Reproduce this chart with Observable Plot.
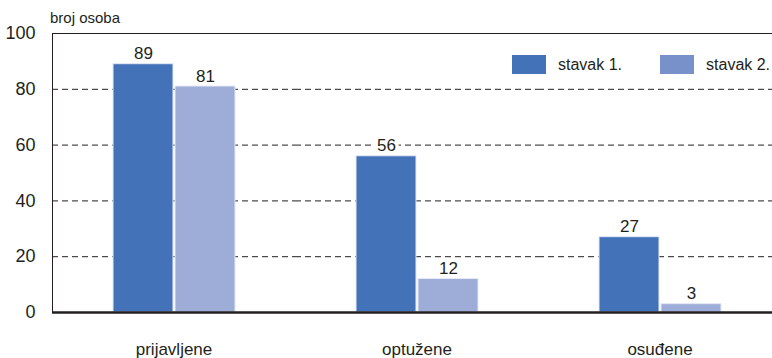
<!DOCTYPE html>
<html>
<head>
<meta charset="utf-8">
<script src="https://cdn.jsdelivr.net/npm/d3@7"></script>
<script src="https://cdn.jsdelivr.net/npm/@observablehq/plot@0.6"></script>
<style>
  html, body { margin: 0; padding: 0; overflow: hidden; background: white; width: 772px; height: 358px; }
  #wrap { position: relative; width: 772px; height: 358px; overflow: hidden; font-family: "Liberation Sans", Arial, sans-serif; color: #231f20; }
  #chart svg { max-width: none !important; width: 781px !important; height: 358px !important; display: block; }
  #ylabel { position: absolute; left: 50px; top: 9px; font-size: 15px; line-height: 18px; white-space: nowrap; }
  #legend { position: absolute; left: 512px; top: 55px; display: flex; align-items: center; font-size: 16px; white-space: nowrap; width: 300px; }
  .item { display: flex; align-items: center; white-space: nowrap; flex: none; }
  .sw { width: 34px; height: 19px; margin-right: 12px; flex: none; }
</style>
</head>
<body>
<div id="wrap">
  <div id="chart"></div>
  <div id="ylabel">broj osoba</div>
  <div id="legend"></div>
</div>
<script>
const categories = ["prijavljene", "optužene", "osuđene"];
const series = ["stavak 1.", "stavak 2."];
const stavak1 = [89, 56, 27];
const stavak2 = [81, 12, 3];
const yTicks = [0, 20, 40, 60, 80, 100];
const gridTicks = [20, 40, 60, 80];
const barColors = ["#4472b8", "#9eacd8"];
const legendColors = ["#4472b8", "#7891cb"];

const data = categories.flatMap((c, i) => [
  {category: c, series: series[0], value: stavak1[i]},
  {category: c, series: series[1], value: stavak2[i]}
]);

const chart = Plot.plot({
  width: 781,
  height: 358,
  marginLeft: 52,
  marginRight: 0,
  marginTop: 33,
  marginBottom: 46,
  style: {fontFamily: "'Liberation Sans', Arial, sans-serif", fontSize: "17px", color: "#231f20", background: "white", overflow: "visible"},
  fx: {domain: categories, padding: 0, label: null, axis: "bottom", tickSize: 0, tickPadding: 30},
  x: {domain: series, axis: null, paddingInner: 0.033, paddingOuter: 0.96},
  y: {domain: [0, 100], ticks: yTicks, tickSize: 0, tickPadding: 17, label: null, line: true},
  color: {domain: series, range: barColors},
  marks: [
    Plot.ruleY(gridTicks, {stroke: "#231f20", strokeDasharray: "6,4", strokeWidth: 1}),
    Plot.ruleY([100], {stroke: "#231f20", strokeWidth: 1}),
    Plot.text(data, {fx: "category", x: "series", y: "value", text: d => String(d.value), lineAnchor: "bottom", dy: -5, fontSize: 17, fill: "#231f20", stroke: "white", strokeWidth: 7, paintOrder: "stroke", strokeLinejoin: "round"}),
    Plot.barY(data, {fx: "category", x: "series", y: "value", fill: "series", stroke: "#e4eaf6", strokeWidth: 1}),
    Plot.ruleY([0], {stroke: "#231f20", strokeWidth: 2.5})
  ]
});
document.getElementById("chart").appendChild(chart);
chart.querySelectorAll("g[aria-label='y-axis tick label'] text, g[aria-label='y-axis tick label']").forEach(t => t.setAttribute("font-size", "18"));

const legend = document.getElementById("legend");
series.forEach((s, i) => {
  const it = document.createElement("div");
  it.className = "item";
  if (i === 0) it.style.marginRight = "38px";
  const sw = document.createElement("div");
  sw.className = "sw";
  sw.style.background = legendColors[i];
  const tx = document.createElement("span");
  tx.textContent = s;
  it.appendChild(sw); it.appendChild(tx);
  legend.appendChild(it);
});
</script>
</body>
</html>
